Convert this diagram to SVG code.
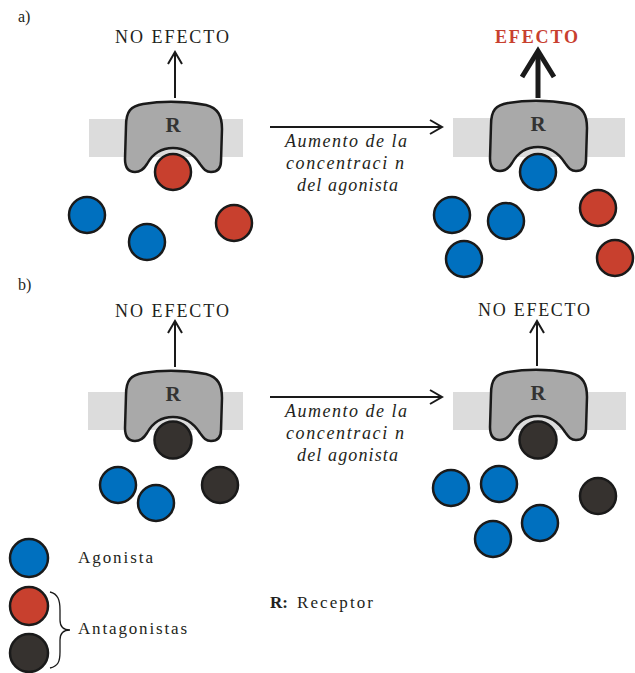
<svg xmlns="http://www.w3.org/2000/svg" width="635" height="673" viewBox="0 0 635 673">
<style>
.t{font-family:"Liberation Serif","Times New Roman",serif;fill:#231f20}
.lab{font-size:18px}
.it{font-size:18px;font-style:italic}
.rl{font-size:21px;font-weight:bold;fill:#333}
.band{fill:#dcdcdc}
.rec{fill:#a9a9a9;stroke:#1a1a1a;stroke-width:2.5;stroke-linejoin:round}
.c{stroke:#1a1a1a;stroke-width:2.5}
.blue{fill:#0070bf}
.red{fill:#c8402e}
.dark{fill:#36322f}
.ln{stroke:#1a1a1a;stroke-width:2;fill:none}
</style>
<defs>
<marker id="head" viewBox="-14 -9 16 18" refX="0" refY="0" markerWidth="16" markerHeight="18" markerUnits="userSpaceOnUse" orient="auto">
<path d="M-12,-7 L0,0 L-12,7" fill="none" stroke="#1a1a1a" stroke-width="2"/>
</marker>
<path id="rshape" d="M-47,25 C-47,10 -42,5 -30,3 Q0,-2 33,4 C45,7 49,15 49,28 L48,60 C48,68 44,71 38,71 C32,71 30,67 27,63 C20,52 10,47 0,47 C-10,47 -20,52 -26,63 C-29,68 -32,71 -38,71 C-45,71 -48,66 -48,58 Z"/>
</defs>

<text class="t" x="18" y="22" font-size="16">a)</text>
<text class="t" x="18" y="290" font-size="16">b)</text>

<!-- Panel a, left -->
<g id="a-left-membrane"><rect class="band" x="89" y="119" width="154" height="38"/></g>
<g id="a-left-receptor">
<use href="#rshape" class="rec" x="173" y="101"/>
<text class="t rl" x="173" y="132" text-anchor="middle">R</text>
</g>
<g id="a-left-label"><text class="t lab" x="115" y="43" textLength="114" lengthAdjust="spacing">NO EFECTO</text></g>
<g id="a-left-ligands">
<circle class="c red" cx="173" cy="172" r="18"/>
<circle class="c blue" cx="87" cy="215" r="18"/>
<circle class="c blue" cx="147" cy="242" r="18"/>
<circle class="c red" cx="234" cy="223" r="18"/>
</g>

<!-- Panel a, right -->
<g id="a-right-membrane"><rect class="band" x="453" y="118" width="172" height="39"/></g>
<g id="a-right-receptor">
<use href="#rshape" class="rec" x="538" y="100"/>
<text class="t rl" x="538" y="131" text-anchor="middle">R</text>
</g>
<g id="a-right-label"><text class="t" x="495" y="43" font-size="18" font-weight="bold" style="fill:#c8402e" textLength="83" lengthAdjust="spacing">EFECTO</text></g>
<g id="a-right-ligands">
<circle class="c blue" cx="538" cy="172" r="18"/>
<circle class="c blue" cx="452" cy="215" r="18"/>
<circle class="c blue" cx="506" cy="221" r="18"/>
<circle class="c blue" cx="464" cy="259" r="18"/>
<circle class="c red" cx="598" cy="208" r="18"/>
<circle class="c red" cx="615" cy="258" r="18"/>
</g>

<!-- Panel b, left -->
<g id="b-left-membrane"><rect class="band" x="88" y="392" width="155" height="38"/></g>
<g id="b-left-receptor">
<use href="#rshape" class="rec" x="173" y="370"/>
<text class="t rl" x="173" y="401" text-anchor="middle">R</text>
</g>
<g id="b-left-label"><text class="t lab" x="115" y="317" textLength="114" lengthAdjust="spacing">NO EFECTO</text></g>
<g id="b-left-ligands">
<circle class="c dark" cx="173" cy="440" r="18.5"/>
<circle class="c blue" cx="118" cy="485" r="18"/>
<circle class="c blue" cx="156" cy="503" r="18"/>
<circle class="c dark" cx="220" cy="485" r="18"/>
</g>

<!-- Panel b, right -->
<g id="b-right-membrane"><rect class="band" x="453" y="392" width="173" height="38"/></g>
<g id="b-right-receptor">
<use href="#rshape" class="rec" x="538" y="369"/>
<text class="t rl" x="538" y="400" text-anchor="middle">R</text>
</g>
<g id="b-right-label"><text class="t lab" x="478" y="316" textLength="112" lengthAdjust="spacing">NO EFECTO</text></g>
<g id="b-right-ligands">
<circle class="c dark" cx="538" cy="440" r="18.5"/>
<circle class="c blue" cx="451" cy="488" r="18"/>
<circle class="c blue" cx="499" cy="484" r="18"/>
<circle class="c dark" cx="598" cy="496" r="18"/>
<circle class="c blue" cx="540" cy="523" r="18"/>
<circle class="c blue" cx="493" cy="539" r="18"/>
</g>

<!-- Connectors -->
<g id="connectors">
<line class="ln" x1="175" y1="98" x2="175" y2="52" marker-end="url(#head)"/>
<line class="ln" x1="538" y1="98" x2="538" y2="54" style="stroke-width:5"/>
<path d="M522,77 L538,51 L554,77" fill="none" stroke="#1a1a1a" stroke-width="5"/>
<line class="ln" x1="270" y1="127" x2="442" y2="127" marker-end="url(#head)"/>
<line class="ln" x1="175" y1="367" x2="175" y2="321" marker-end="url(#head)"/>
<line class="ln" x1="537" y1="366" x2="537" y2="321" marker-end="url(#head)"/>
<line class="ln" x1="270" y1="397" x2="442" y2="397" marker-end="url(#head)"/>
</g>

<g id="arrow-a-label">
<text class="t it" x="285" y="147" textLength="122" lengthAdjust="spacing">Aumento de la</text>
<text class="t it" x="286" y="169" textLength="118" lengthAdjust="spacing">concentraci n</text>
<text class="t it" x="297" y="191" textLength="101" lengthAdjust="spacing">del agonista</text>
</g>
<g id="arrow-b-label">
<text class="t it" x="285" y="417" textLength="122" lengthAdjust="spacing">Aumento de la</text>
<text class="t it" x="286" y="439" textLength="118" lengthAdjust="spacing">concentraci n</text>
<text class="t it" x="297" y="461" textLength="101" lengthAdjust="spacing">del agonista</text>
</g>

<!-- Legend -->
<g id="legend-agonista">
<circle class="c blue" cx="29" cy="558" r="19"/>
<text class="t" x="78" y="563" font-size="17" textLength="75" lengthAdjust="spacing">Agonista</text>
</g>
<g id="legend-antagonistas">
<circle class="c red" cx="29" cy="606" r="19"/>
<circle class="c dark" cx="29" cy="653" r="19"/>
<path d="M50,592 C58,594 60,600 60,610 L60,620 C60,627 64,630 70,630 C64,630 60,633 60,640 L60,652 C60,662 58,666 50,668" fill="none" stroke="#1a1a1a" stroke-width="1.3"/>
<text class="t" x="78" y="634" font-size="17" textLength="109" lengthAdjust="spacing">Antagonistas</text>
</g>
<g id="legend-receptor">
<text class="t" x="270" y="608" font-size="17"><tspan font-weight="bold">R:</tspan><tspan x="297" textLength="76" lengthAdjust="spacing">Receptor</tspan></text>
</g>
</svg>
